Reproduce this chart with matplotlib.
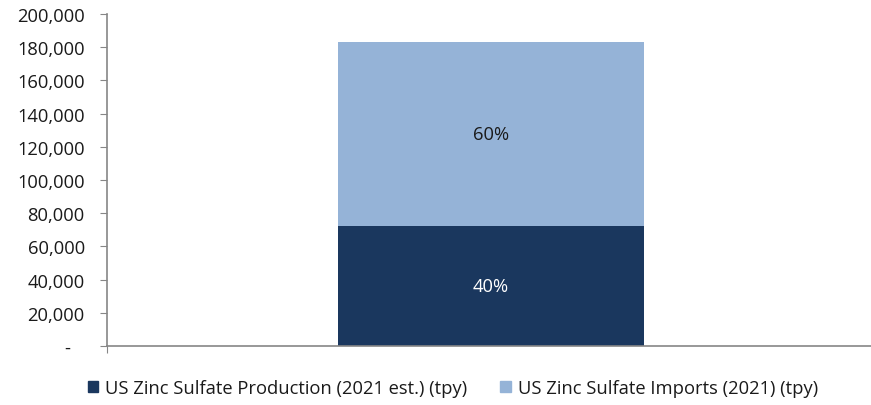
import matplotlib
matplotlib.use("Agg")
import matplotlib.pyplot as plt
from matplotlib.ticker import FuncFormatter
from matplotlib.patches import Patch

categories = ["2021"]
production = [72500]
imports = [110500]
prod_label = ["40%"]
imp_label = ["60%"]
series_names = ["US Zinc Sulfate Production (2021 est.) (tpy)", "US Zinc Sulfate Imports (2021) (tpy)"]

c_prod = "#1a375e"
c_imp = "#95b3d7"
axis_col = "#868686"

plt.rcParams['font.family'] = ['Open Sans', 'DejaVu Sans']
FS = 13.2

fig = plt.figure(figsize=(8.71, 4.06), dpi=100)
ax = fig.add_axes([107/871, 1-347/406, (871-107)/871, (347-15)/406])

x = [0]
ax.bar(x, production, width=0.40, color=c_prod, zorder=2)
ax.bar(x, imports, bottom=production, width=0.40, color=c_imp, zorder=2)
for xi, p, i, pl, il in zip(x, production, imports, prod_label, imp_label):
    ax.text(xi, p/2, pl, ha='center', va='center', color='white', fontsize=FS)
    ax.text(xi, p + i/2, il, ha='center', va='center', color='#1a1a1a', fontsize=FS)

ax.set_xlim(-0.5026, 0.4974)
ax.set_ylim(0, 200000)
ax.set_yticks(range(0, 200001, 20000))
ax.yaxis.set_major_formatter(FuncFormatter(lambda v, pos: "-   " if v == 0 else f"{int(v):,}"))
ax.set_xticks([-0.5026])
ax.set_xticklabels([])
ax.tick_params(axis='y', direction='out', length=5, color=axis_col, labelsize=FS, labelcolor='#1a1a1a', pad=11)
ax.tick_params(axis='x', direction='out', length=5, color=axis_col)
for s in ['top', 'right']:
    ax.spines[s].set_visible(False)
for s in ['left', 'bottom']:
    ax.spines[s].set_color(axis_col)
    ax.spines[s].set_linewidth(1.2)

handles = [Patch(color=c_prod), Patch(color=c_imp)]
fig.legend(handles, series_names, loc='center', bbox_to_anchor=(0.52, 1-389/406), ncol=2,
           frameon=False, fontsize=FS, handlelength=0.55, handleheight=0.55,
           handletextpad=0.4, columnspacing=1.8, labelcolor='#1a1a1a')

fig.savefig("out.png", dpi=100)
